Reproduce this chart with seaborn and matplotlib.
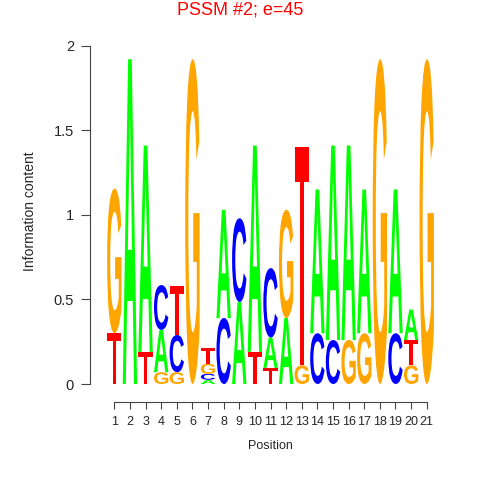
import numpy as np
import pandas as pd
import seaborn as sns
import matplotlib.pyplot as plt
from matplotlib.textpath import TextPath
from matplotlib.patches import PathPatch
from matplotlib.font_manager import FontProperties
from matplotlib.transforms import Affine2D

# information content per base at each position
positions = list(range(1, 22))
A = [0, 1.92, 1.22, 0.25, 0, 0, 0.025, 0.64, 0.485, 1.22, 0.18,
     0.39, 0, 0.85, 1.15, 1.15, 0.85, 0, 0.85, 0.18, 0]
C = [0, 0, 0, 0.265, 0.22, 0, 0.035, 0.39, 0.495, 0, 0.41,
     0, 0, 0.30, 0.26, 0, 0, 0, 0.30, 0, 0]
G = [0.855, 0, 0, 0.07, 0.07, 1.92, 0.06, 0, 0, 0, 0,
     0.64, 0.11, 0, 0, 0.26, 0.30, 1.92, 0, 0.11, 1.92]
T = [0.30, 0, 0.19, 0, 0.29, 0, 0.09, 0, 0, 0.19, 0.095,
     0, 1.29, 0, 0, 0, 0, 0, 0, 0.15, 0]

base_colors = {'A': '#00FF00', 'C': '#0000FF', 'G': '#FFA500', 'T': '#FF0000'}

df = pd.DataFrame({'pos': positions, 'A': A, 'C': C, 'G': G, 'T': T})

sns.set_style('ticks')
plt.rcParams['font.family'] = ['Liberation Sans', 'DejaVu Sans']

fig = plt.figure(figsize=(4.8, 4.8), dpi=100)
ax = fig.add_axes([90 / 480, 96 / 480, 360 / 480, 338.3 / 480])

glyph_font = FontProperties(family='Liberation Sans', weight='bold')
letter_w = 0.92


def draw_letter(ax, letter, x, y0, h):
    tp = TextPath((0, 0), letter, size=1, prop=glyph_font)
    ext = tp.get_extents()
    tr = (Affine2D()
          .translate(-ext.x0, -ext.y0)
          .scale(letter_w / ext.width, h / ext.height)
          .translate(x - letter_w / 2, y0))
    path = tr.transform_path(tp)
    ax.add_patch(PathPatch(path, facecolor=base_colors[letter],
                           edgecolor='none', lw=0))


# smallest letter at the bottom of each stack
for _, row in df.iterrows():
    stack = sorted([(row[b], b) for b in 'ACGT' if row[b] > 0])
    y = 0.0
    for h, b in stack:
        draw_letter(ax, b, row['pos'], y, h)
        y += h

ax.set_xlim(-0.556, 22.49)
ax.set_ylim(0, 2)

sns.despine(ax=ax, top=True, right=True)
ax.spines['left'].set_bounds(0, 2)
ax.spines['bottom'].set_bounds(1, 21)
ax.spines['bottom'].set_position(('outward', 13))
for s in ['left', 'bottom']:
    ax.spines[s].set_color('#444444')
    ax.spines[s].set_linewidth(0.8)

ax.set_xticks(positions)
ax.set_xticklabels([str(p) for p in positions], fontsize=9)
ax.set_yticks([0, 0.5, 1, 1.5, 2])
ax.set_yticklabels(['0', '0.5', '1', '1.5', '2'], fontsize=10.5)
ax.tick_params(axis='x', length=5, width=0.8, color='#444444', pad=5)
ax.tick_params(axis='y', length=6.5, width=0.8, color='#444444', pad=5)

ax.set_xlabel('Position', fontsize=9)
ax.xaxis.set_label_coords(0.501, -0.166)
ax.set_ylabel('Information content', fontsize=10)
ax.yaxis.set_label_coords(-0.147, 0.51)

fig.text(0.5, 1 - 10 / 480, 'PSSM #2; e=45', color='#FF0000',
         fontsize=13, ha='center', va='center')

fig.savefig('out.png', dpi=100)
